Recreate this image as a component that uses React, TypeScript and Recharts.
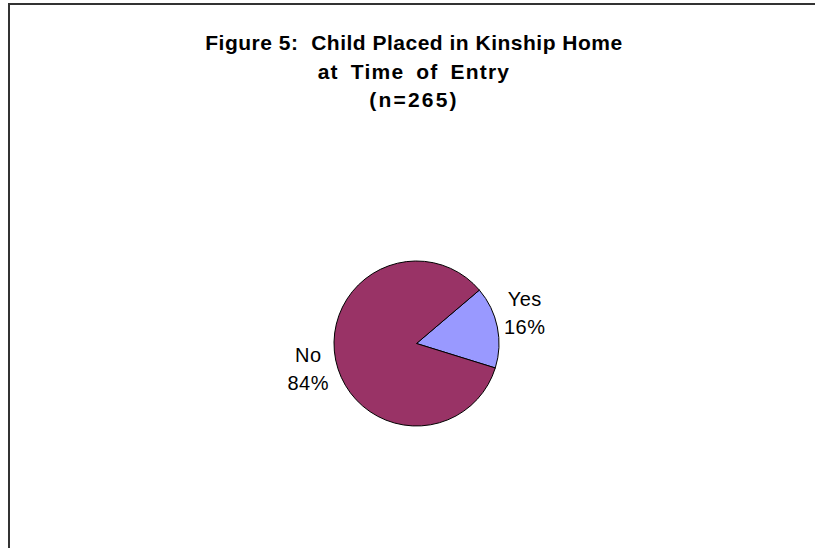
import React from "react";
import { PieChart, Pie, Cell } from "recharts";

const categories = ["Yes", "No"];
const percentValues = [16, 84];
const sliceColors = ["#9999FF", "#993366"];
const titleLines = [
  "Figure 5:  Child Placed in Kinship Home",
  "at Time of Entry",
  "(n=265)",
];
const titleLetterSpacing = [0.5, 1.2, 2.2];
const titleWordSpacing = [0, 5, 0];

const data = categories.map((name, i) => ({ name, value: percentValues[i] }));

const FONT = "'Liberation Sans', Arial, Helvetica, sans-serif";
const RAD = Math.PI / 180;

const renderLabel = (props: any) => {
  const { cx, cy, midAngle, outerRadius, name, value } = props;
  const c = Math.cos(-midAngle * RAD);
  const s = Math.sin(-midAngle * RAD);
  const x = cx + (outerRadius + 28) * c;
  const y = cy + (outerRadius + 55) * s - 2.5;
  return (
    <text
      x={x}
      y={y}
      textAnchor="middle"
      fontSize={20}
      letterSpacing={0.5}
      fontFamily={FONT}
      fill="#000"
    >
      <tspan x={x} dy={-7}>
        {name}
      </tspan>
      <tspan x={x} dy={28}>
        {value}%
      </tspan>
    </text>
  );
};

export default function App() {
  return (
    <div
      style={{
        position: "fixed",
        left: 0,
        top: 0,
        width: 815,
        height: 548,
        overflow: "hidden",
        background: "#fff",
      }}
    >
      <div
        style={{
          position: "absolute",
          left: 8,
          top: 3,
          width: 820,
          height: 570,
          border: "2px solid #333",
          boxSizing: "border-box",
        }}
      />
      <div
        style={{
          position: "absolute",
          left: 0,
          top: 0,
          width: 815,
          height: 548,
        }}
      >
        <PieChart width={815} height={548} margin={{ top: 0, right: 0, bottom: 0, left: 0 }}>
          <Pie
            data={data}
            dataKey="value"
            nameKey="name"
            cx={416.5}
            cy={343.5}
            outerRadius={82.5}
            startAngle={40.35}
            endAngle={-319.65}
            stroke="#000"
            strokeWidth={1}
            label={renderLabel}
            labelLine={false}
            isAnimationActive={false}
          >
            {data.map((d, i) => (
              <Cell key={d.name} fill={sliceColors[i]} />
            ))}
          </Pie>
        </PieChart>
      </div>
      <div
        style={{
          position: "absolute",
          left: 0,
          top: 29,
          width: 828,
          textAlign: "center",
          fontFamily: FONT,
          fontWeight: "bold",
          fontSize: 21,
          lineHeight: "28.5px",
          color: "#000",
          whiteSpace: "pre",
        }}
      >
        {titleLines.map((t, i) => (
          <div
            key={t}
            style={{
              letterSpacing: titleLetterSpacing[i],
              wordSpacing: titleWordSpacing[i],
            }}
          >
            {t}
          </div>
        ))}
      </div>
    </div>
  );
}
